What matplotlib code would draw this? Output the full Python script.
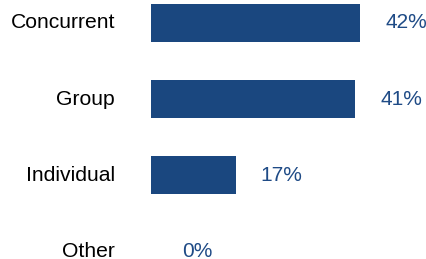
import matplotlib.pyplot as plt
from matplotlib.transforms import offset_copy

categories = ["Concurrent", "Group", "Individual", "Other"]
values = [42, 41, 17, 0]
labels = ["42%", "41%", "17%", "0%"]

bar_color = "#1a477f"
text_color = "#1f4b86"

plt.rcParams["font.family"] = ["Liberation Sans", "DejaVu Sans"]

fig = plt.figure(figsize=(4.27, 2.59), dpi=100)
ax = fig.add_axes([151 / 427, 0, 276 / 427, 1])

pos = list(range(len(categories)))
ax.barh(pos, values, height=0.5, color=bar_color)
ax.set_xlim(0, 55.4)
ax.set_ylim(3.105, -0.3026)

# value labels centered a fixed distance past the bar end
lab_tr = offset_copy(ax.transData, fig=fig, x=46, y=0, units="dots")
for p, v, t in zip(pos, values, labels):
    ax.text(v, p, t, transform=lab_tr, ha="center", va="center",
            fontsize=15, color=text_color, clip_on=False)

# category labels right-aligned left of the bars
cat_tr = offset_copy(ax.get_yaxis_transform(), fig=fig, x=-36, y=0, units="dots")
for p, c in zip(pos, categories):
    ax.text(0, p, c, transform=cat_tr, ha="right", va="center",
            fontsize=15.2, color="black")

ax.axis("off")

fig.savefig("out.png", dpi=100)
